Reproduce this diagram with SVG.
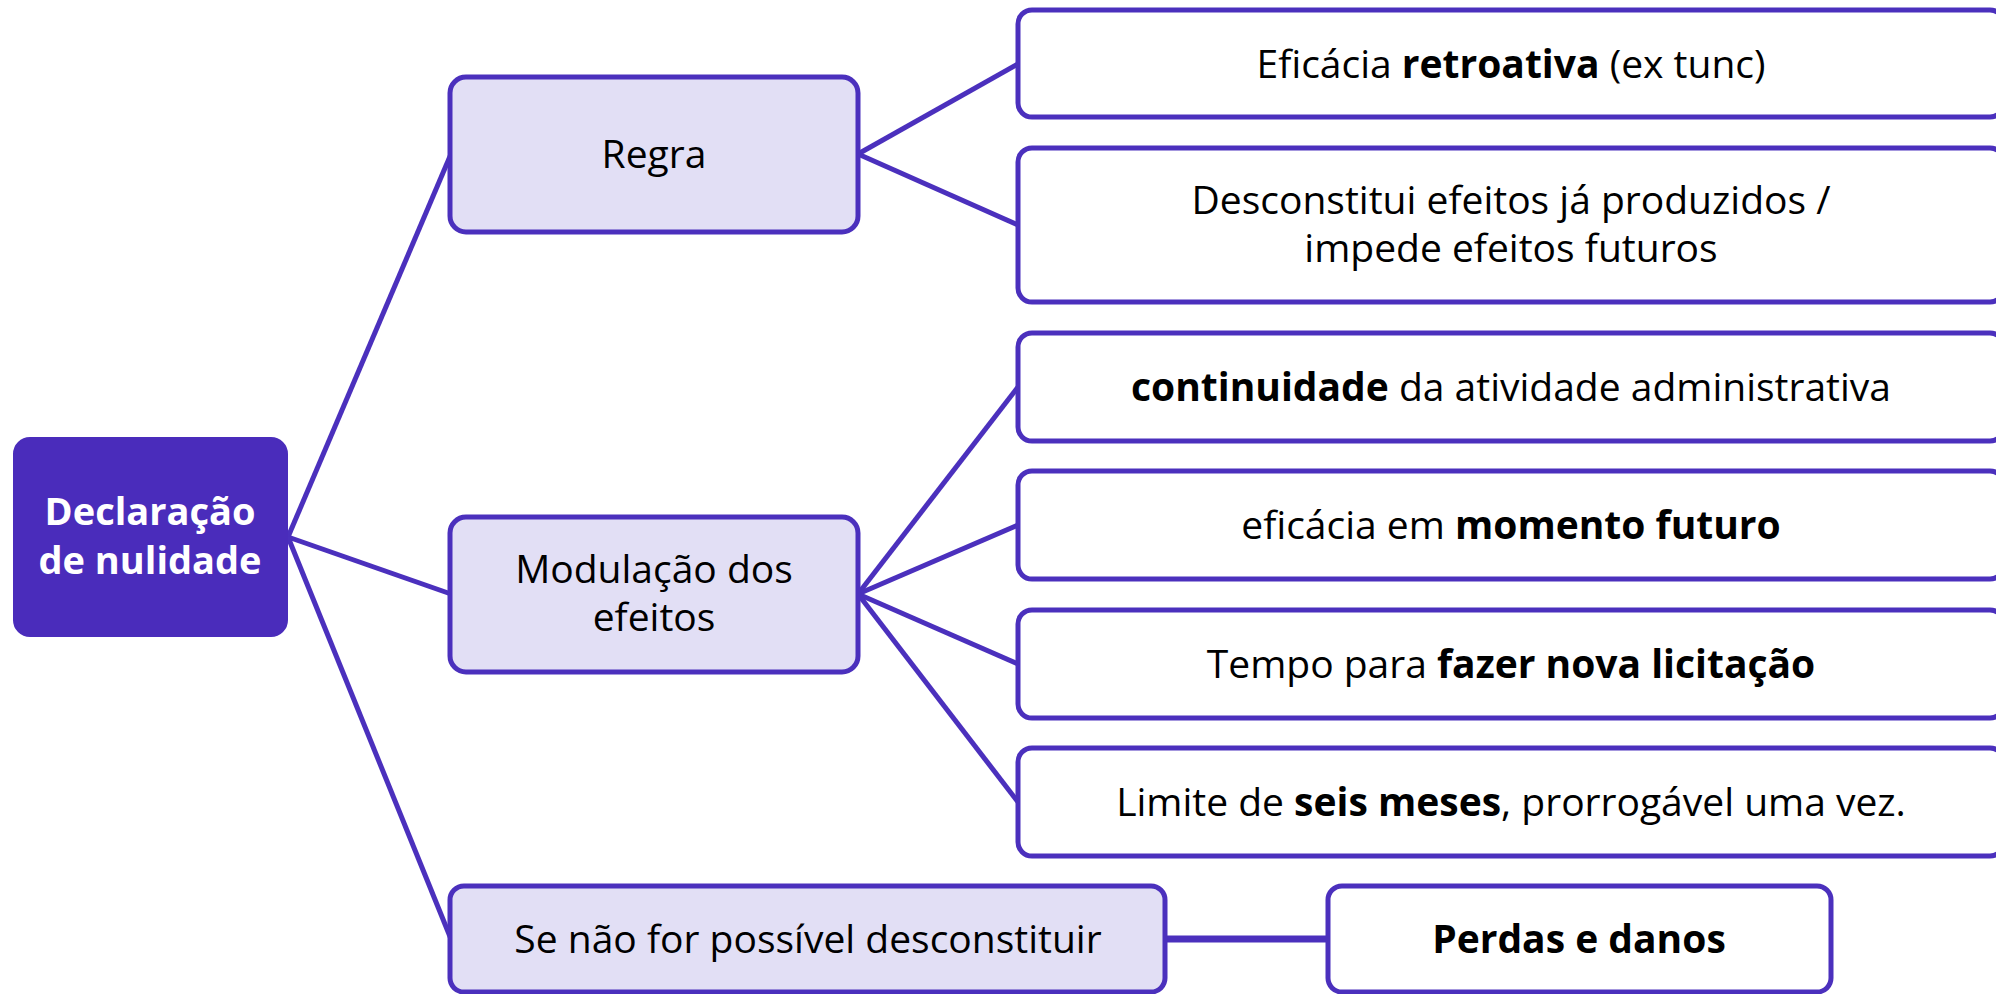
<svg xmlns="http://www.w3.org/2000/svg" width="1996" height="994" viewBox="0 0 1996 994">
<style>
.box{fill:#ffffff;stroke:#4b30bd;stroke-width:5}
.mid{fill:#e2dff5;stroke:#4b30bd;stroke-width:5}
.root{fill:#4a2cbb;stroke:#4a2cbb;stroke-width:2}
.conn line{stroke:#4b30bd;stroke-width:5}
text{font-family:"Open Sans","Noto Sans",sans-serif;font-size:39px;fill:#000;text-anchor:middle}
.b{font-weight:700}
.rt{fill:#fff;font-weight:700;font-size:38px}
</style>
<rect width="1996" height="994" fill="#fff"/>
<g id="connectors" class="conn">
<line x1="288" y1="537" x2="451" y2="154"/>
<line x1="288" y1="537" x2="451" y2="594"/>
<line x1="288" y1="537" x2="451" y2="939"/>
<line x1="858" y1="154" x2="1018" y2="64"/>
<line x1="858" y1="154" x2="1018" y2="225"/>
<line x1="858" y1="594" x2="1018" y2="387"/>
<line x1="858" y1="594" x2="1018" y2="525"/>
<line x1="858" y1="594" x2="1018" y2="664"/>
<line x1="858" y1="594" x2="1018" y2="802"/>
<line x1="1165" y1="939" x2="1328" y2="939" style="stroke-width:7"/>
</g>
<g id="root"><rect class="root" x="14" y="438" width="273" height="198" rx="16"/>
<text class="rt" x="150" y="525">Declaração</text><text class="rt" x="150" y="574">de nulidade</text></g>
<g id="regra"><rect class="mid" x="450" y="77" width="408" height="155" rx="16"/>
<text x="654" y="168">Regra</text></g>
<g id="modulacao"><rect class="mid" x="450" y="517" width="408" height="155" rx="16"/>
<text x="654" y="583">Modulação dos</text><text x="654" y="631">efeitos</text></g>
<g id="se-nao"><rect class="mid" x="450" y="886" width="715" height="106" rx="14"/>
<text x="808" y="953">Se não for possível desconstituir</text></g>
<g id="perdas"><rect class="box" x="1328" y="886" width="503" height="106" rx="14"/>
<text class="b" x="1579" y="953">Perdas e danos</text></g>
<g id="eficacia-retroativa"><rect class="box" x="1018" y="10" width="986" height="107" rx="14"/>
<text x="1511" y="78">Eficácia <tspan class="b">retroativa</tspan> (ex tunc)</text></g>
<g id="desconstitui"><rect class="box" x="1018" y="148" width="986" height="154" rx="14"/>
<text x="1511" y="214">Desconstitui efeitos já produzidos /</text><text x="1511" y="262">impede efeitos futuros</text></g>
<g id="continuidade"><rect class="box" x="1018" y="333" width="986" height="108" rx="14"/>
<text x="1511" y="401"><tspan class="b">continuidade</tspan> da atividade administrativa</text></g>
<g id="momento-futuro"><rect class="box" x="1018" y="471" width="986" height="108" rx="14"/>
<text x="1511" y="539">eficácia em <tspan class="b">momento futuro</tspan></text></g>
<g id="nova-licitacao"><rect class="box" x="1018" y="610" width="986" height="108" rx="14"/>
<text x="1511" y="678">Tempo para <tspan class="b">fazer nova licitação</tspan></text></g>
<g id="seis-meses"><rect class="box" x="1018" y="748" width="986" height="108" rx="14"/>
<text x="1511" y="816">Limite de <tspan class="b">seis meses</tspan>, prorrogável uma vez.</text></g>
</svg>
